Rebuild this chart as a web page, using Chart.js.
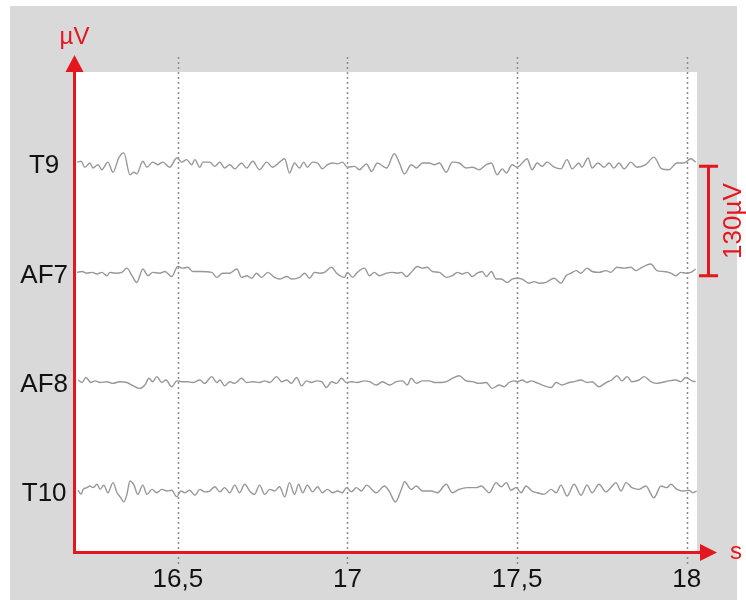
<!DOCTYPE html>
<html>
<head>
<meta charset="utf-8">
<script src="https://cdn.jsdelivr.net/npm/chart.js@4"></script>
<style>
  html, body { margin: 0; padding: 0; background: #fff; }
</style>
</head>
<body>
<canvas id="eeg" width="746" height="602"></canvas>
<script>
// channel names, baseline offsets on the µV axis (one channel = 130 µV apart)
const channels = ['T9', 'AF7', 'AF8', 'T10'];
const offsets = [390, 260, 130, 0];
const xTicks = [16.5, 17, 17.5, 18];
const scaleBar = [256, 386]; // 130 µV bar
const scaleBarLabel = '130µV';

// [time s, µV]
const t9 = [[16.203,1],[16.215,2],[16.226,-5],[16.241,0],[16.250,-6],[16.265,-2],[16.276,-8],[16.294,1],[16.309,-11],[16.326,6],[16.341,12],[16.359,-14],[16.371,-11],[16.379,-13],[16.397,2],[16.409,-5],[16.426,1],[16.441,-2],[16.456,1],[16.476,-5],[16.497,6],[16.512,1],[16.526,4],[16.541,-2],[16.550,4],[16.565,-5],[16.574,1],[16.594,1],[16.609,-4],[16.624,1],[16.638,-6],[16.653,-2],[16.668,-7],[16.688,0],[16.703,-6],[16.721,2],[16.741,-8],[16.762,1],[16.779,-5],[16.800,1],[16.815,5],[16.829,-12],[16.844,0],[16.859,-6],[16.871,1],[16.882,-5],[16.897,1],[16.912,0],[16.926,-7],[16.941,-2],[16.956,0],[16.971,-1],[16.985,1],[17.000,-5],[17.021,-4],[17.035,-8],[17.056,-1],[17.071,-10],[17.088,0],[17.115,-6],[17.138,11],[17.153,0],[17.168,-13],[17.188,-2],[17.203,-6],[17.221,0],[17.241,0],[17.256,-2],[17.271,0],[17.291,-11],[17.309,1],[17.329,0],[17.350,-6],[17.368,-5],[17.388,-8],[17.409,-2],[17.424,0],[17.441,-14],[17.456,-7],[17.468,-12],[17.485,-2],[17.500,-5],[17.515,0],[17.529,5],[17.544,-8],[17.559,0],[17.574,-4],[17.588,1],[17.609,-5],[17.629,-7],[17.647,4],[17.662,-7],[17.682,0],[17.691,-5],[17.709,6],[17.721,-6],[17.738,0],[17.756,-5],[17.771,0],[17.785,-6],[17.800,0],[17.815,-7],[17.835,1],[17.853,-5],[17.879,-2],[17.903,7],[17.926,-7],[17.947,-8],[17.971,0],[17.991,0],[18.012,5],[18.026,1]];

const af7 = [[16.203,0],[16.218,1],[16.232,-1],[16.247,0],[16.262,-2],[16.276,0],[16.291,-4],[16.300,0],[16.315,-1],[16.335,0],[16.350,5],[16.365,-4],[16.379,-12],[16.397,4],[16.412,-4],[16.426,0],[16.447,-1],[16.462,1],[16.482,-5],[16.500,7],[16.515,5],[16.529,6],[16.544,1],[16.565,1],[16.600,0],[16.615,-6],[16.632,-1],[16.653,-1],[16.674,4],[16.688,-6],[16.703,-4],[16.718,-7],[16.732,-1],[16.747,-6],[16.765,0],[16.785,-6],[16.800,-8],[16.821,-5],[16.835,-8],[16.859,-6],[16.874,-1],[16.888,-7],[16.903,0],[16.918,-1],[16.932,0],[16.953,6],[16.968,-1],[16.991,-6],[17.000,0],[17.015,-6],[17.029,0],[17.050,5],[17.065,-4],[17.079,0],[17.094,-4],[17.115,-1],[17.132,0],[17.147,-1],[17.159,0],[17.174,-5],[17.188,0],[17.206,7],[17.221,5],[17.235,6],[17.250,1],[17.271,0],[17.291,-6],[17.309,-4],[17.324,0],[17.338,-2],[17.353,0],[17.368,-5],[17.382,-1],[17.397,1],[17.409,-5],[17.424,1],[17.438,-8],[17.453,-8],[17.471,-12],[17.485,-8],[17.500,-7],[17.515,-8],[17.535,-13],[17.550,-11],[17.565,-13],[17.585,-12],[17.609,-7],[17.629,-13],[17.644,-4],[17.659,-1],[17.674,2],[17.688,-1],[17.706,5],[17.721,1],[17.741,0],[17.762,2],[17.776,0],[17.794,6],[17.815,5],[17.835,6],[17.850,2],[17.868,6],[17.894,10],[17.912,2],[17.932,1],[17.953,-1],[17.968,-4],[17.982,0],[17.997,-1],[18.012,0],[18.026,4]];

const af8 = [[16.206,2],[16.218,-1],[16.229,5],[16.244,-1],[16.256,1],[16.271,-1],[16.291,0],[16.309,-2],[16.329,0],[16.350,-1],[16.365,-4],[16.388,-8],[16.403,-4],[16.415,4],[16.426,0],[16.438,6],[16.453,-1],[16.465,2],[16.482,-6],[16.497,1],[16.512,0],[16.529,0],[16.544,-1],[16.565,2],[16.579,-2],[16.600,6],[16.615,-1],[16.624,2],[16.638,-5],[16.653,0],[16.668,-2],[16.688,4],[16.703,-1],[16.721,0],[16.741,-1],[16.756,1],[16.771,-1],[16.791,6],[16.806,0],[16.821,2],[16.835,-2],[16.850,5],[16.865,-5],[16.879,1],[16.894,-1],[16.909,1],[16.924,0],[16.938,-7],[16.953,0],[16.968,-2],[16.982,4],[16.997,-1],[17.012,0],[17.029,-1],[17.050,1],[17.065,0],[17.085,-4],[17.103,0],[17.124,-4],[17.144,0],[17.162,1],[17.176,-4],[17.188,4],[17.203,-2],[17.221,1],[17.241,1],[17.256,-1],[17.276,-1],[17.291,0],[17.309,4],[17.329,7],[17.350,1],[17.368,0],[17.388,-2],[17.409,-1],[17.426,-8],[17.447,-4],[17.462,-6],[17.476,-1],[17.491,1],[17.500,0],[17.515,2],[17.529,-1],[17.541,1],[17.556,-1],[17.574,-4],[17.600,-7],[17.615,-1],[17.632,-4],[17.653,-1],[17.668,0],[17.688,2],[17.706,-1],[17.721,0],[17.741,-6],[17.762,-1],[17.779,2],[17.794,7],[17.809,1],[17.824,6],[17.838,0],[17.859,2],[17.874,6],[17.894,0],[17.909,-2],[17.926,-1],[17.947,1],[17.968,2],[17.982,0],[17.997,5],[18.015,1],[18.026,0]];

const t10 = [[16.206,1],[16.215,-4],[16.221,2],[16.232,4],[16.241,6],[16.250,4],[16.262,8],[16.271,2],[16.282,7],[16.294,-2],[16.309,10],[16.321,-2],[16.332,-8],[16.341,-13],[16.350,-4],[16.359,12],[16.371,7],[16.382,-4],[16.397,7],[16.409,-4],[16.424,2],[16.438,-2],[16.453,2],[16.468,0],[16.482,1],[16.497,-7],[16.509,0],[16.521,-2],[16.535,1],[16.550,-5],[16.565,2],[16.579,-1],[16.594,0],[16.609,5],[16.624,-1],[16.638,4],[16.653,-2],[16.668,7],[16.682,-2],[16.697,8],[16.712,0],[16.726,-4],[16.741,7],[16.756,-4],[16.771,2],[16.785,0],[16.800,5],[16.815,-7],[16.829,10],[16.844,-4],[16.856,8],[16.868,-2],[16.882,7],[16.897,-1],[16.912,5],[16.926,-2],[16.941,2],[16.956,-2],[16.971,0],[16.985,-2],[16.997,4],[17.012,-1],[17.026,4],[17.041,0],[17.056,7],[17.085,-2],[17.109,6],[17.124,-1],[17.141,-13],[17.159,2],[17.168,11],[17.188,2],[17.203,6],[17.221,0],[17.247,0],[17.265,-2],[17.291,8],[17.309,-2],[17.329,2],[17.353,4],[17.379,4],[17.394,6],[17.418,-2],[17.438,10],[17.453,5],[17.468,10],[17.482,1],[17.497,4],[17.512,-2],[17.526,6],[17.544,0],[17.559,-2],[17.579,-4],[17.600,2],[17.615,-2],[17.629,7],[17.647,-6],[17.668,8],[17.688,-5],[17.706,7],[17.721,-2],[17.741,8],[17.762,-1],[17.776,4],[17.791,10],[17.806,0],[17.821,10],[17.838,4],[17.859,2],[17.879,6],[17.903,-8],[17.924,6],[17.941,4],[17.953,8],[17.971,2],[17.991,0],[18.006,1],[18.018,-2],[18.029,0]];

const traces = [t9, af7, af8, t10];

const FONT = '"Liberation Sans", Arial, sans-serif';
const RED = '#e5161d';

// grey frame, white plot box, dotted time grid, red axes and the scale bar
const eegFrame = {
    id: 'eegFrame',
    beforeDraw(chart) {
        const {ctx, chartArea: a} = chart;
        const xs = chart.scales.x;
        ctx.save();
        ctx.fillStyle = '#d9d9d9';
        ctx.fillRect(10, 6, 727, 594);
        ctx.fillStyle = '#ffffff';
        ctx.fillRect(a.left, a.top, a.right - a.left, a.bottom - a.top);
        ctx.strokeStyle = '#8c8c8c';
        ctx.lineWidth = 1.5;
        ctx.setLineDash([2, 3]);
        xTicks.forEach(v => {
            const px = Math.round(xs.getPixelForValue(v)) + 0.5;
            ctx.beginPath();
            ctx.moveTo(px, a.top - 15);
            ctx.lineTo(px, a.bottom + 14);
            ctx.stroke();
        });
        ctx.restore();
    },
    afterDraw(chart) {
        const {ctx, chartArea: a} = chart;
        const ys = chart.scales.y;
        const ax = a.left - 1.5;
        const ay = a.bottom + 0.5;
        ctx.save();
        ctx.strokeStyle = RED;
        ctx.fillStyle = RED;
        ctx.lineWidth = 3;

        // y axis + arrow
        ctx.beginPath();
        ctx.moveTo(ax, ay + 1.5);
        ctx.lineTo(ax, a.top);
        ctx.stroke();
        ctx.beginPath();
        ctx.moveTo(ax - 9, a.top);
        ctx.lineTo(ax + 9, a.top);
        ctx.lineTo(ax, a.top - 17);
        ctx.closePath();
        ctx.fill();

        // x axis + arrow
        ctx.beginPath();
        ctx.moveTo(ax - 1.5, ay);
        ctx.lineTo(a.right + 4, ay);
        ctx.stroke();
        ctx.beginPath();
        ctx.moveTo(a.right + 3, ay - 8.5);
        ctx.lineTo(a.right + 3, ay + 8.5);
        ctx.lineTo(a.right + 20, ay);
        ctx.closePath();
        ctx.fill();

        ctx.font = '24px ' + FONT;
        ctx.textBaseline = 'alphabetic';
        ctx.textAlign = 'center';
        ctx.fillText('µV', ax, a.top - 28);
        ctx.textAlign = 'left';
        ctx.fillText('s', a.right + 33, ay + 6);

        // 130 µV scale bar
        const bx = a.right + 11.5;
        const yTop = ys.getPixelForValue(scaleBar[1]);
        const yBot = ys.getPixelForValue(scaleBar[0]);
        ctx.beginPath();
        ctx.moveTo(bx, yTop);
        ctx.lineTo(bx, yBot);
        ctx.moveTo(bx - 9.5, yTop);
        ctx.lineTo(bx + 9.5, yTop);
        ctx.moveTo(bx - 9.5, yBot);
        ctx.lineTo(bx + 9.5, yBot);
        ctx.stroke();
        ctx.font = '26px ' + FONT;
        ctx.translate(bx + 32, (yTop + yBot) / 2);
        ctx.rotate(-Math.PI / 2);
        ctx.textAlign = 'center';
        ctx.fillText(scaleBarLabel, 0, 0);
        ctx.restore();
    }
};

const datasets = channels.map((name, i) => ({
    label: name,
    data: traces[i].map(p => ({x: p[0], y: offsets[i] + p[1]})),
    borderColor: '#989898',
    borderWidth: 1.4,
    pointRadius: 0,
    fill: false,
    cubicInterpolationMode: 'monotone'
}));

const config = {
    type: 'line',
    data: {datasets: datasets},
    options: {
        responsive: false,
        devicePixelRatio: 1,
        animation: false,
        layout: {padding: {top: 72, right: 49, left: 0, bottom: 0}},
        plugins: {legend: {display: false}, tooltip: {enabled: false}},
        scales: {
            x: {
                type: 'linear',
                min: 16.2,
                max: 18.03,
                afterBuildTicks: s => { s.ticks = xTicks.map(v => ({value: v})); },
                afterFit: s => { s.height = 50; },
                grid: {display: false, drawTicks: false},
                border: {display: false},
                ticks: {
                    callback: v => String(v).replace('.', ','),
                    color: '#111111',
                    font: {family: FONT, size: 26},
                    padding: 12,
                    maxRotation: 0,
                    autoSkip: false
                }
            },
            y: {
                type: 'linear',
                min: -72.5,
                max: 498.2,
                afterBuildTicks: s => { s.ticks = offsets.map(v => ({value: v})); },
                afterFit: s => { s.width = 76; },
                grid: {display: false, drawTicks: false},
                border: {display: false},
                ticks: {
                    callback: v => channels[offsets.indexOf(v)],
                    color: '#111111',
                    font: {family: FONT, size: 26},
                    crossAlign: 'center',
                    padding: 8,
                    labelOffset: 3,
                    autoSkip: false
                }
            }
        }
    },
    plugins: [eegFrame]
};

const eegChart = new Chart(document.getElementById('eeg'), config);
</script>
</body>
</html>
